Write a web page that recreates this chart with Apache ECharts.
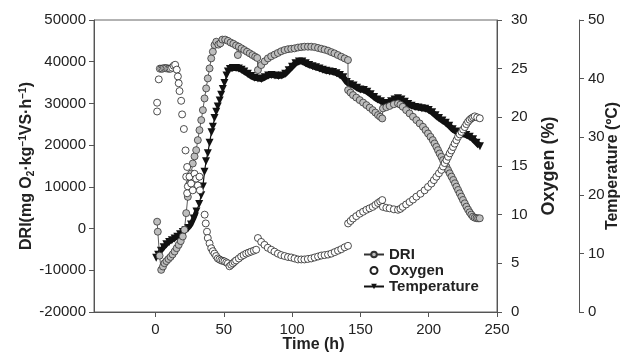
<!DOCTYPE html>
<html>
<head>
<meta charset="utf-8">
<title>DRI / Oxygen / Temperature</title>
<script src="https://cdn.jsdelivr.net/npm/echarts@6/dist/echarts.min.js"></script>
<style>
  html, body { margin: 0; padding: 0; background: #fff; }
  #chart { width: 629px; height: 364px; }
</style>
</head>
<body>
<div id="chart"></div>
<script>
// 刻度
var timeTicks = [0, 50, 100, 150, 200, 250];
var driTicks = [-20000, 50000, 10000];   // min, max, step
var oxygenTicks = [0, 30, 5];
var tempTicks = [0, 50, 10];

// DRI (mg O2/kg VS/h) : [time h, value]
var driPoints = [
  [1.2, 1650], [1.7, -750], [3, -6500], [4.2, -9900], [5.5, -9100], [6.6, -8300], [8, -7800],
  [9.5, -7300], [11, -6800], [12.5, -6200], [14, -5500], [15.5, -4700], [17, -3900], [18.5, -3000],
  [20, -1900], [21.2, -300], [22.5, 3700], [23.7, 7600], [24.9, 10800], [26.1, 13200], [27.3, 15600],
  [28.6, 17300], [29.8, 18800], [31, 21200], [32.2, 23600], [33.5, 26000], [34.7, 28400], [35.9, 31200],
  [37.1, 33600], [38.3, 36000], [39.6, 38400], [40.8, 40800], [42, 42400], [43.2, 44000], [44.5, 44800],
  [46, 44100], [47.5, 44400], [49, 45300], [51, 45300], [53, 45000], [55, 44600], [57, 44300],
  [59, 43900], [60.3, 41600], [61, 43600], [63, 43200], [65, 42800], [67, 42400], [69, 42000],
  [71, 41600], [73, 41200], [74.5, 40900],
  [75, 38000], [77.4, 39200], [80, 40100], [82.3, 40800], [84.7, 41300], [87.2, 41700], [89.6, 42100],
  [92, 42500], [94.5, 42800], [97, 43000], [99.4, 43100], [101.8, 43200], [104.3, 43400], [106.7, 43500],
  [109, 43600], [111.6, 43600], [114, 43600], [116.5, 43500], [119, 43300], [121.4, 43100], [123.8, 42900],
  [126.3, 42650], [128.7, 42300], [131, 42000], [133.5, 41600], [136, 41200], [138.5, 40800], [140.9, 40400],
  [141, 33200], [142.8, 32600], [144.6, 32000], [147, 31400], [149.5, 30800], [152, 30200], [154.4, 29600],
  [156.8, 29000], [159, 28400], [161, 27800], [162.9, 27200], [164.5, 26800], [166, 26400],
  [166.5, 28800], [169, 29100], [171.4, 29400], [174.5, 29800], [177.5, 30000], [179.3, 29700], [181, 29200],
  [183.5, 28400], [186, 27600], [188.5, 26800], [191, 26000], [193.4, 25200], [195.8, 24400], [197.7, 23600],
  [199.5, 22800], [201.3, 22000], [203, 21200], [204.3, 20400], [205.6, 19600], [206.8, 18800], [208, 18000],
  [209.3, 17200], [210.5, 16400], [211.8, 15600], [213, 14800], [214.2, 14000], [215.4, 13250], [216.7, 12450],
  [218, 11650], [219.2, 10850], [220.3, 10050], [221.5, 9250], [222.7, 8450], [223.9, 7650], [225.1, 6850],
  [226.4, 6050], [227.6, 5250], [228.8, 4550], [230, 3900], [231.2, 3350], [232.4, 2850], [233.7, 2600],
  [235, 2500], [236.2, 2450], [237.4, 2470]
];

// Oxygen (%) : [time h, value]
var oxygenPoints = [
  [1.2, 21.5], [1.2, 20.6], [2.4, 23.9], [3.2, 25.0], [4.2, 25.0], [5.2, 25.0], [6.2, 25.05], [7.2, 25.05],
  [8.2, 25.05], [9.2, 25.0], [10.2, 25.0], [11.2, 25.0], [12.2, 25.1], [13.3, 25.3], [14.4, 25.4],
  [15.6, 24.9], [16.4, 24.2], [17, 23.5], [17.6, 22.7], [18.8, 21.7], [19.5, 20.3], [20.8, 18.8],
  [22, 16.6], [23.2, 14.9], [22.5, 13.9], [23.7, 12.9], [23.2, 12.2], [24.9, 13.9], [26.1, 13.2],
  [27.3, 12.5], [28.6, 14.2], [29.8, 13.7], [31, 13.0], [32.2, 13.9], [32.5, 12.5], [36, 10.0],
  [36.8, 9.1], [37.7, 8.25], [38.3, 7.6], [39.6, 7.05], [40.8, 6.55], [42, 6.25], [43.2, 6.0],
  [44.4, 5.75], [45.6, 5.5], [46.8, 5.4], [48.1, 5.3], [49.3, 5.25], [50.5, 5.2], [51.8, 5.1],
  [53, 5.0], [54.2, 4.7], [55.4, 4.85], [56.6, 5.0], [57.8, 5.15], [59, 5.3], [61, 5.5], [62.7, 5.7],
  [64.5, 5.85], [66.4, 6.0], [68.2, 6.1], [70, 6.2], [72, 6.3], [73.7, 6.4],
  [75, 7.6], [77.4, 7.2], [79.8, 6.9], [82.2, 6.6], [84.7, 6.4], [87.1, 6.2], [89.6, 6.0], [92, 5.85],
  [94.5, 5.75], [97, 5.65], [99.4, 5.6], [101.8, 5.5], [104.3, 5.4], [106.7, 5.4], [109, 5.4],
  [111.5, 5.45], [114, 5.5], [116.5, 5.6], [119, 5.7], [121.4, 5.8], [123.8, 5.85], [126.3, 5.9],
  [128.7, 6.0], [131.2, 6.15], [133.6, 6.3], [136, 6.45], [138.5, 6.65], [140.9, 6.8],
  [141, 9.1], [142.8, 9.35], [144.6, 9.6], [147, 9.85], [149.5, 10.1], [152, 10.3], [154.4, 10.5],
  [156.7, 10.65], [159, 10.8], [161, 11.0], [162.9, 11.2], [164.5, 11.35], [166, 11.5],
  [166.5, 10.8], [169, 10.7], [171.4, 10.65], [174.5, 10.55], [177.5, 10.5], [179.3, 10.6], [181, 10.8],
  [183.5, 11.05], [186, 11.3], [188.5, 11.55], [191, 11.85], [194, 12.15], [197, 12.5], [199.5, 12.85],
  [202, 13.2], [203.8, 13.55], [205.6, 13.9], [207.5, 14.25], [209.3, 14.6], [210.5, 14.95], [211.7, 15.3],
  [213, 15.6], [214.2, 15.95], [215.4, 16.3], [216.6, 16.6], [217.8, 16.95], [219, 17.3], [220.3, 17.65],
  [221.5, 18.0], [222.7, 18.25], [224, 18.5], [225.2, 18.75], [226.4, 19.0], [227.6, 19.3], [228.8, 19.55],
  [230, 19.75], [231.3, 19.9], [232.5, 20.0], [233.7, 20.1], [235.5, 20.0], [237.4, 19.9]
];

// Temperature (ºC) : [time h, value]
var tempPoints = [
  [0.5, 9.3], [2, 9.8], [4, 10.5], [6, 11.1], [8, 11.6], [10, 12.0], [12, 12.3], [14, 12.6], [16, 12.9],
  [18, 13.3], [20, 13.7], [22, 14.0], [24, 14.4], [26, 15.0], [28, 16.0], [30, 17.2], [32, 18.5],
  [33.5, 20.0], [34.7, 21.5], [35.9, 24.0], [37, 25.8], [38.3, 27.2], [39.6, 29.0], [41, 30.8], [42, 31.7],
  [43.2, 33.2], [44.5, 34.3], [45.6, 35.2], [47, 36.2], [48.1, 37.2], [49.3, 38.2], [50.5, 39.2], [52, 40.5],
  [53, 41.2], [54.5, 41.6], [56.6, 41.8], [59, 41.8], [61, 41.7], [63, 41.5], [65, 41.2], [67.6, 40.8],
  [70, 40.4], [72.5, 40.1], [75, 40.0], [77.5, 39.9], [80, 40.2], [82.5, 40.5], [85, 40.6], [87.5, 40.5],
  [90, 40.4], [92.5, 40.5], [95, 40.8], [97.5, 41.4], [100, 42.0], [102.5, 42.6], [105, 42.9], [107.5, 42.9],
  [110, 42.6], [112.5, 42.3], [115, 42.1], [117.5, 41.9], [120, 41.7], [122.5, 41.5], [125, 41.3],
  [127.5, 41.2], [130, 41.1], [132.5, 40.9], [135, 40.6], [137.5, 40.2], [140, 39.4], [142.5, 39.0],
  [145, 38.8], [147.5, 38.4], [150, 38.1], [152.5, 38.0], [155, 37.7], [157.5, 37.3], [160, 36.8],
  [162.5, 36.4], [165, 36.1], [167.5, 35.8], [170, 35.8], [172.5, 36.1], [175, 36.4], [177.5, 36.6],
  [180, 36.4], [182.5, 36.0], [185, 35.6], [187.5, 35.3], [190, 35.1], [192.5, 35.0], [195, 34.9],
  [197.5, 34.8], [200, 34.6], [202.5, 34.2], [205, 33.7], [207.5, 33.2], [210, 32.8], [212.5, 32.4],
  [215, 31.9], [217.5, 31.3], [220, 30.9], [222.5, 30.7], [225, 30.5], [227.5, 30.3], [230, 30.0],
  [232.5, 29.6], [235, 29.0], [237.5, 28.4]
];

var FONT = '"Liberation Sans", Arial, Helvetica, sans-serif';
var AXIS_COLOR = '#555';
var LABEL_COLOR = '#222';

// 温度曲线点很密的两段，原图里叠成粗黑带
var tempBandEarly = tempPoints.filter(function (p) { return p[0] <= 30; });
var tempBandLate = tempPoints.filter(function (p) { return p[0] >= 54; });

var chart = echarts.init(document.getElementById('chart'), null, { renderer: 'canvas' });

function yAxisBase(range, margin) {
  return {
    type: 'value',
    min: range[0],
    max: range[1],
    interval: range[2],
    splitLine: { show: false },
    axisLine: { show: true, onZero: false, lineStyle: { color: AXIS_COLOR, width: 1 } },
    axisTick: { show: true, inside: false, length: 5, lineStyle: { color: AXIS_COLOR } },
    axisLabel: {
      color: LABEL_COLOR, fontSize: 15, fontFamily: FONT, margin: margin,
      formatter: function (v) { return String(v); }
    },
    nameLocation: 'middle',
    nameMoveOverlap: false,
    nameTextStyle: { color: LABEL_COLOR, fontFamily: FONT, fontWeight: 'bold' }
  };
}

var leftAxis = yAxisBase(driTicks, 8);
leftAxis.position = 'left';
leftAxis.name = 'DRI(mg O{sub|2}·kg{sup|−1}VS·h{sup|−1})';
leftAxis.nameGap = 58;
leftAxis.nameTextStyle.fontSize = 16;
leftAxis.nameTextStyle.rich = {
  sub: { fontSize: 10, fontWeight: 'bold', fontFamily: FONT, color: LABEL_COLOR, verticalAlign: 'bottom', lineHeight: 18 },
  sup: { fontSize: 10, fontWeight: 'bold', fontFamily: FONT, color: LABEL_COLOR, verticalAlign: 'top', lineHeight: 18 }
};

var oxyAxis = yAxisBase(oxygenTicks, 14);
oxyAxis.position = 'right';
oxyAxis.offset = 0;
oxyAxis.name = 'Oxygen (%)';
oxyAxis.nameGap = 43;
oxyAxis.nameTextStyle.fontSize = 18;

var tempAxis = yAxisBase(tempTicks, 9);
tempAxis.position = 'right';
tempAxis.offset = 82;
tempAxis.name = 'Temperature (ºC)';
tempAxis.nameGap = 26;
tempAxis.nameTextStyle.fontSize = 16;

var option = {
  animation: false,
  backgroundColor: '#fff',
  textStyle: { fontFamily: FONT },
  grid: {
    left: 94, top: 20, width: 403, height: 292,
    containLabel: false,
    outerBoundsMode: 'none',
    show: true, borderColor: '#666', borderWidth: 1, backgroundColor: 'transparent'
  },
  legend: {
    data: ['DRI', 'Oxygen', 'Temperature'],
    orient: 'vertical',
    left: 358,
    top: 242,
    itemWidth: 20,
    itemHeight: 7,
    itemGap: 1,
    textStyle: { fontFamily: FONT, fontSize: 15, fontWeight: 'bold', color: LABEL_COLOR, lineHeight: 15 }
  },
  xAxis: {
    type: 'value',
    min: -45,
    max: 250,
    name: 'Time (h)',
    nameLocation: 'middle',
    nameGap: 25,
    nameMoveOverlap: false,
    nameTextStyle: {
      color: LABEL_COLOR, fontFamily: FONT, fontWeight: 'bold', fontSize: 16,
      padding: [0, 0, 0, 36]
    },
    splitLine: { show: false },
    axisLine: { show: true, onZero: false, lineStyle: { color: AXIS_COLOR } },
    axisTick: { show: true, length: 5, customValues: timeTicks, lineStyle: { color: AXIS_COLOR } },
    axisLabel: { customValues: timeTicks, color: LABEL_COLOR, fontSize: 15, fontFamily: FONT, margin: 10 }
  },
  yAxis: [leftAxis, oxyAxis, tempAxis],
  series: [
    {
      name: 'Temperature',
      type: 'line',
      yAxisIndex: 2,
      data: tempPoints,
      symbol: 'triangle',
      symbolRotate: 180,
      symbolSize: 8,
      showAllSymbol: true,
      itemStyle: { color: '#111' },
      lineStyle: { color: '#111', width: 1.2 },
      z: 2
    },
    {
      name: 'Temperature',
      type: 'line',
      yAxisIndex: 2,
      data: tempBandEarly,
      symbol: 'none',
      lineStyle: { color: '#111', width: 5 },
      z: 2
    },
    {
      name: 'Temperature',
      type: 'line',
      yAxisIndex: 2,
      data: tempBandLate,
      symbol: 'none',
      lineStyle: { color: '#111', width: 6 },
      z: 2
    },
    {
      name: 'DRI',
      type: 'line',
      yAxisIndex: 0,
      data: driPoints,
      symbol: 'circle',
      symbolSize: 7,
      showAllSymbol: true,
      itemStyle: { color: '#bdbdbd', borderColor: '#333', borderWidth: 0.8 },
      lineStyle: { color: '#333', width: 0.8 },
      z: 3
    },
    {
      name: 'Oxygen',
      type: 'scatter',
      yAxisIndex: 1,
      data: oxygenPoints,
      symbol: 'circle',
      symbolSize: 7,
      itemStyle: { color: '#fff', borderColor: '#222', borderWidth: 0.8, opacity: 1 },
      z: 4
    }
  ]
};

chart.setOption(option);
</script>
</body>
</html>
